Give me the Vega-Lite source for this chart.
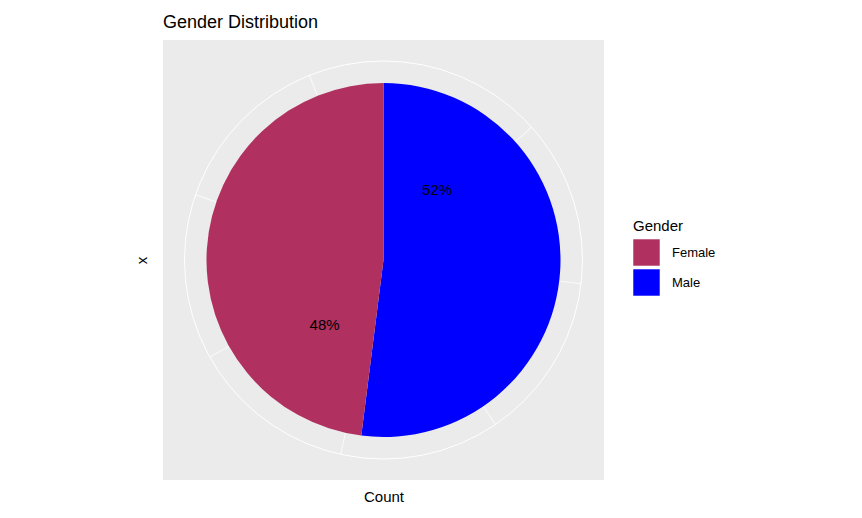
{
"$schema":"https://vega.github.io/schema/vega-lite/v6.json",
"autosize":"none","width":441,"height":440,
"padding":{"left":163,"top":40,"right":258,"bottom":38},
"background":"white",
"view":{"fill":"#EBEBEB","stroke":null},
"title":{"text":"Gender Distribution","anchor":"start","frame":"group","font":"Liberation Sans","fontSize":18,"fontWeight":"normal","color":"black","offset":8},
"config":{"font":"Liberation Sans"},
"resolve":{"scale":{"theta":"independent","color":"independent"}},
"layer":[
{"data":{"values":[{"x":0,"y":0}]},"mark":{"type":"point","opacity":0},
 "encoding":{"x":{"field":"x","type":"quantitative","title":"Count","axis":{"labels":false,"ticks":false,"domain":false,"grid":false,"titleFont":"Liberation Sans","titleFontSize":15,"titleFontWeight":"normal","titleColor":"black","titlePadding":9}},
 "y":{"field":"y","type":"quantitative","title":"x","axis":{"labels":false,"ticks":false,"domain":false,"grid":false,"titleFont":"Liberation Sans","titleFontSize":15,"titleFontWeight":"normal","titleColor":"black","titlePadding":14}}}},
{"data":{"values":[{"r":1}]},"mark":{"type":"arc","radius":199,"theta":0,"theta2":6.2832,"fill":null,"stroke":"white","strokeWidth":1},"encoding":{}},
{"data":{"values":[{"a":0.837,"b":0.842},{"a":1.688,"b":1.693},{"a":2.541,"b":2.546},{"a":3.356,"b":3.361},{"a":4.20,"b":4.205},{"a":5.044,"b":5.049},{"a":5.899,"b":5.904}]},
 "mark":{"type":"arc","radius":199,"radius2":177,"fill":"white","opacity":0.8},
 "encoding":{"theta":{"field":"a","type":"quantitative","scale":null,"stack":null},"theta2":{"field":"b"}}},
{"data":{"values":[{"Gender":"Male","Count":52,"o":1},{"Gender":"Female","Count":48,"o":2}]},
 "mark":{"type":"arc","radius":177},
 "encoding":{"theta":{"field":"Count","type":"quantitative","stack":true},
  "order":{"field":"o"},
  "color":{"field":"Gender","type":"nominal","scale":{"domain":["Female","Male"],"range":["#B03060","#0000FF"]},
   "legend":{"orient":"none","legendX":470,"legendY":179,"title":"Gender","titleFont":"Liberation Sans","titleFontSize":15,"titleFontWeight":"normal","titleColor":"black","labelFont":"Liberation Sans","labelFontSize":13,"labelColor":"black","symbolType":"square","symbolSize":700,"symbolStrokeWidth":0,"rowPadding":3,"labelOffset":12,"padding":0}}}},
{"data":{"values":[{"label":"52%","a":0.655},{"label":"48%","a":3.875}]},
 "mark":{"type":"text","radius":88,"fontSize":15,"font":"Liberation Sans","fontWeight":500,"color":"black"},
 "encoding":{"theta":{"field":"a","type":"quantitative","scale":null,"stack":null},"text":{"field":"label"}}}
]
}
